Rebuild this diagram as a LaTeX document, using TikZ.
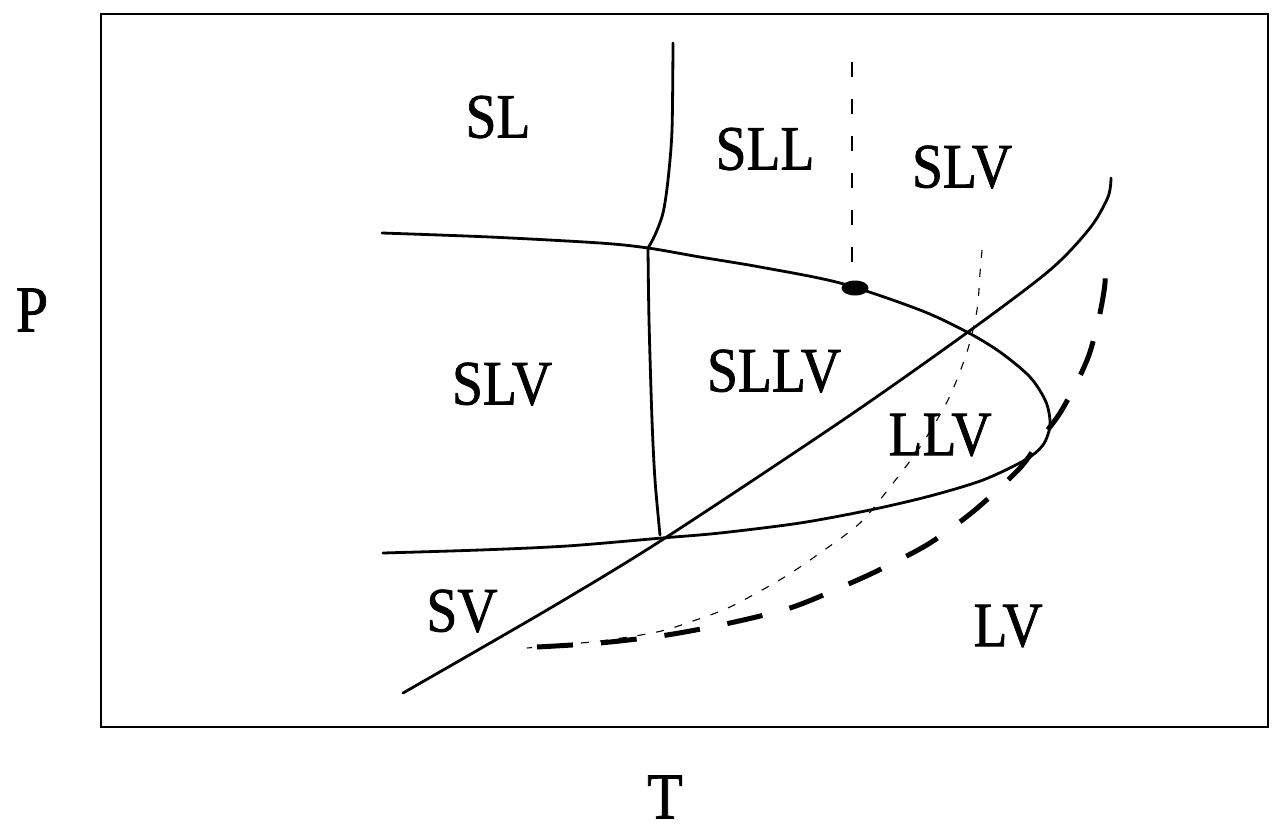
\documentclass[tikz,border=0pt]{standalone}
\usepackage{fontspec}
\setmainfont{Liberation Serif}
\newfontfamily\heavyserif{Liberation Serif}[FakeBold=1.2]
\usepackage{graphicx}
\usetikzlibrary{shapes.geometric}
\newcommand{\talltext}[1]{\scalebox{1.03}[1.17]{#1}}
\newcommand{\axistext}[1]{\scalebox{1}[1.13]{#1}}
\tikzset{
  region/.style={font=\heavyserif\fontsize{54}{60}\selectfont, inner sep=0pt},
  axislabel/.style={font=\heavyserif\fontsize{58}{64}\selectfont, inner sep=0pt},
  phaseline/.style={line width=2.8pt, line join=round, line cap=round},
  frameline/.style={line width=2.4pt},
  finedash/.style={line width=1.1pt, dash pattern=on 8pt off 11pt},
  vertdash/.style={line width=1.3pt, dash pattern=on 15pt off 22pt},
  thickdash/.style={line width=5pt, dash pattern=on 36pt off 28pt},
  critpoint/.style={ellipse, fill=black, minimum width=27pt, minimum height=15pt, inner sep=0pt}
}
\begin{document}
\begin{tikzpicture}[x=1pt,y=-1pt]
\useasboundingbox (0,0) rectangle (1275,833);
% frame
\draw[frameline] (101,14) rectangle (1268,727);
% loop curve (upper and lower branches)
\draw[phaseline] plot[smooth, tension=0.5] coordinates {
 (382,233) (490,237) (600,243) (648,248) (700,257) (760,267) (840,283)
 (920,310) (967,332) (1000,352) (1030,377) (1046,402) (1050,425)
 (1043,445) (1025,460) (983,480) (930,496) (870,510) (800,523)
 (720,533) (662,538) (567,546) (480,550) (383,553)};
% left vertical curve
\draw[phaseline] plot[smooth, tension=0.5] coordinates {
 (673,43) (672,130) (668,180) (663,213) (655,235) (648,248)};
\draw[phaseline] plot[smooth, tension=0.5] coordinates {
 (648,248) (649,320) (652,420) (655,480) (660,535)};
% diagonal curve
\draw[phaseline] plot[smooth, tension=0.5] coordinates {
 (403,693) (547,610) (662,540) (843,420) (968,332) (1050,270)
 (1090,228) (1108,197) (1111,178)};
% fine dashed curve
\draw[finedash] plot[smooth, tension=0.5] coordinates {
 (982,250) (980,273) (977,310) (967,352) (948,400) (920,447)
 (890,487) (860,523) (820,553) (783,578) (730,607) (690,622) (657,632)
 (600,641) (527,648)};
% thick dashed curve
\draw[thickdash] plot[smooth, tension=0.5] coordinates {
 (537,647) (600,643) (667,635) (730,623) (793,607) (853,582) (885,567)
 (930,543) (975,510) (1020,468) (1040,440) (1060,413) (1078,380)
 (1090,352) (1100,313) (1105,283) (1105,258)};
% critical point and vertical dashed line
\node[critpoint] (cp) at (855,288) {};
\coordinate (vtop) at (852,62);
\draw[vertdash] (vtop) -- (cp.north -| vtop);
% region labels
\node[region] (sl)   at (498,117) {\talltext{SL}};
\node[region] (sll)  at (765,149) {\talltext{SLL}};
\node[region] (slvu) at (962,167) {\talltext{SLV}};
\node[region] (slvl) at (502,384) {\talltext{SLV}};
\node[region] (sllv) at (774,371) {\talltext{SLLV}};
\node[region] (llv)  at (940,435) {\talltext{LLV}};
\node[region] (sv)   at (462,611) {\talltext{SV}};
\node[region] (lv)   at (1008,626) {\talltext{LV}};
% axis labels
\node[axislabel] (p) at (32,310) {\axistext{P}};
\node[axislabel] (t) at (665,797) {\axistext{T}};
\end{tikzpicture}
\end{document}
